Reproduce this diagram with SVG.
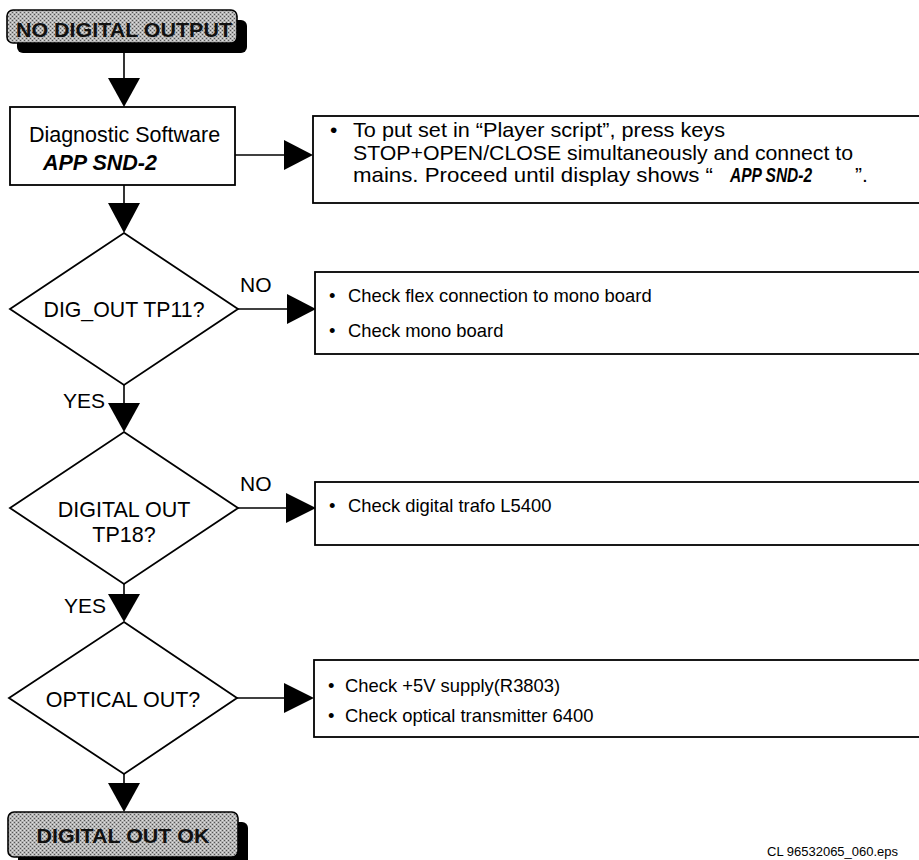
<svg xmlns="http://www.w3.org/2000/svg" width="919" height="860" viewBox="0 0 919 860">
<defs>
<pattern id="stip" width="4" height="4" patternUnits="userSpaceOnUse">
<rect width="4" height="4" fill="#b4b4b4"/>
<rect x="0" y="0" width="1" height="1" fill="#555"/>
<rect x="2" y="2" width="1" height="1" fill="#555"/>
<rect x="2" y="0" width="1" height="1" fill="#e0e0e0"/>
<rect x="0" y="2" width="1" height="1" fill="#e0e0e0"/>
</pattern>
<style>
.ln{stroke:#000;stroke-width:1.6;fill:none}
.bx{stroke:#000;stroke-width:1.8;fill:#fff}
.ah{fill:#000;stroke:none}
.sh{fill:#000}
.tm{fill:url(#stip);stroke:#000;stroke-width:1.6}
.tt{font-family:"Liberation Sans",Arial,sans-serif;font-weight:bold;font-size:20px;fill:#111;text-anchor:middle}
.nt{font-family:"Liberation Sans",Arial,sans-serif;font-size:21.5px;fill:#000;text-anchor:middle}
.bt{font-family:"Liberation Sans",Arial,sans-serif;font-size:18.4px;fill:#000}
.b1{font-family:"Liberation Sans",Arial,sans-serif;font-size:21px;fill:#000}
.lb{font-family:"Liberation Sans",Arial,sans-serif;font-size:21px;fill:#000}
.bi{font-weight:bold;font-style:italic}
.ft{font-family:"Liberation Sans",Arial,sans-serif;font-size:13px;fill:#000}
</style>
</defs>
<rect width="919" height="860" fill="#fff"/>

<g id="connectors">
<line class="ln" x1="124" y1="43" x2="124" y2="79"/>
<polygon class="ah" points="108,78 140,78 124,107"/>
<line class="ln" x1="235" y1="155" x2="285" y2="155"/>
<polygon class="ah" points="284,140 284,170 313,155"/>
<line class="ln" x1="124" y1="185" x2="124" y2="204"/>
<polygon class="ah" points="108,203 140,203 124,233"/>
<line class="ln" x1="238" y1="309" x2="288" y2="309"/>
<polygon class="ah" points="287,294 287,324 316,309"/>
<line class="ln" x1="124" y1="385" x2="124" y2="404"/>
<polygon class="ah" points="108,403 140,403 124,432"/>
<line class="ln" x1="238" y1="508" x2="287" y2="508"/>
<polygon class="ah" points="286,493 286,523 316,508"/>
<line class="ln" x1="124" y1="584" x2="124" y2="595"/>
<polygon class="ah" points="108,594 140,594 124,622"/>
<line class="ln" x1="237" y1="698" x2="285" y2="698"/>
<polygon class="ah" points="284,683 284,713 314,698"/>
<line class="ln" x1="124" y1="774" x2="124" y2="784"/>
<polygon class="ah" points="108,783 140,783 124,812"/>
<text class="lb" x="240" y="292">NO</text>
<text class="lb" x="240" y="491">NO</text>
<text class="lb" x="63" y="408">YES</text>
<text class="lb" x="64" y="613">YES</text>
</g>

<g id="start">
<rect class="sh" x="17" y="20" width="230" height="33" rx="6"/>
<rect class="tm" x="7" y="10" width="230" height="33" rx="6"/>
<text class="tt" x="124" y="37" textLength="216" lengthAdjust="spacingAndGlyphs">NO DIGITAL OUTPUT</text>
</g>

<g id="diag">
<rect class="bx" x="10" y="107" width="225" height="78"/>
<text class="nt" x="124.5" y="142">Diagnostic Software</text>
<text class="nt bi" x="43" y="170" style="text-anchor:start">APP SND-2</text>
</g>

<g id="note1">
<rect class="bx" x="313" y="116" width="620" height="87"/>
<text class="b1" x="330" y="137">•</text>
<text class="b1" x="353" y="137" textLength="372" lengthAdjust="spacingAndGlyphs">To put set in “Player script”, press keys</text>
<text class="b1" x="353" y="160" textLength="500" lengthAdjust="spacingAndGlyphs">STOP+OPEN/CLOSE simultaneously and connect to</text>
<text class="b1" x="353" y="182" textLength="360" lengthAdjust="spacingAndGlyphs">mains. Proceed until display shows “</text>
<text class="b1 bi" x="730" y="182" style="font-size:20px" textLength="82" lengthAdjust="spacingAndGlyphs">APP SND-2</text>
<text class="b1" x="855" y="182">”.</text>
</g>

<g id="dec1">
<polygon class="bx" points="124,233 238,309 124,385 10,309"/>
<text class="nt" x="124" y="317" textLength="161" lengthAdjust="spacingAndGlyphs">DIG_OUT TP11?</text>
</g>

<g id="note2">
<rect class="bx" x="315" y="272" width="620" height="82"/>
<text class="bt" x="329" y="302">•</text>
<text class="bt" x="348" y="302">Check flex connection to mono board</text>
<text class="bt" x="329" y="337">•</text>
<text class="bt" x="348" y="337">Check mono board</text>
</g>

<g id="dec2">
<polygon class="bx" points="124,432 238,508 124,584 10,508"/>
<text class="nt" x="124" y="517">DIGITAL OUT</text>
<text class="nt" x="124" y="542">TP18?</text>
</g>

<g id="note3">
<rect class="bx" x="315" y="482" width="620" height="63"/>
<text class="bt" x="329" y="512">•</text>
<text class="bt" x="348" y="512">Check digital trafo L5400</text>
</g>

<g id="dec3">
<polygon class="bx" points="124,622 237,698 124,774 9,698"/>
<text class="nt" x="123" y="707">OPTICAL OUT?</text>
</g>

<g id="note4">
<rect class="bx" x="314" y="660" width="620" height="77"/>
<text class="bt" x="328" y="692">•</text>
<text class="bt" x="345" y="692">Check +5V supply(R3803)</text>
<text class="bt" x="328" y="722">•</text>
<text class="bt" x="345" y="722">Check optical transmitter 6400</text>
</g>

<g id="end">
<rect class="sh" x="18" y="822" width="230" height="45" rx="6"/>
<rect class="tm" x="8" y="812" width="230" height="45" rx="6"/>
<text class="tt" x="123" y="843" textLength="173" lengthAdjust="spacingAndGlyphs">DIGITAL OUT OK</text>
</g>

<text class="ft" x="767" y="856">CL 96532065_060.eps</text>
</svg>
